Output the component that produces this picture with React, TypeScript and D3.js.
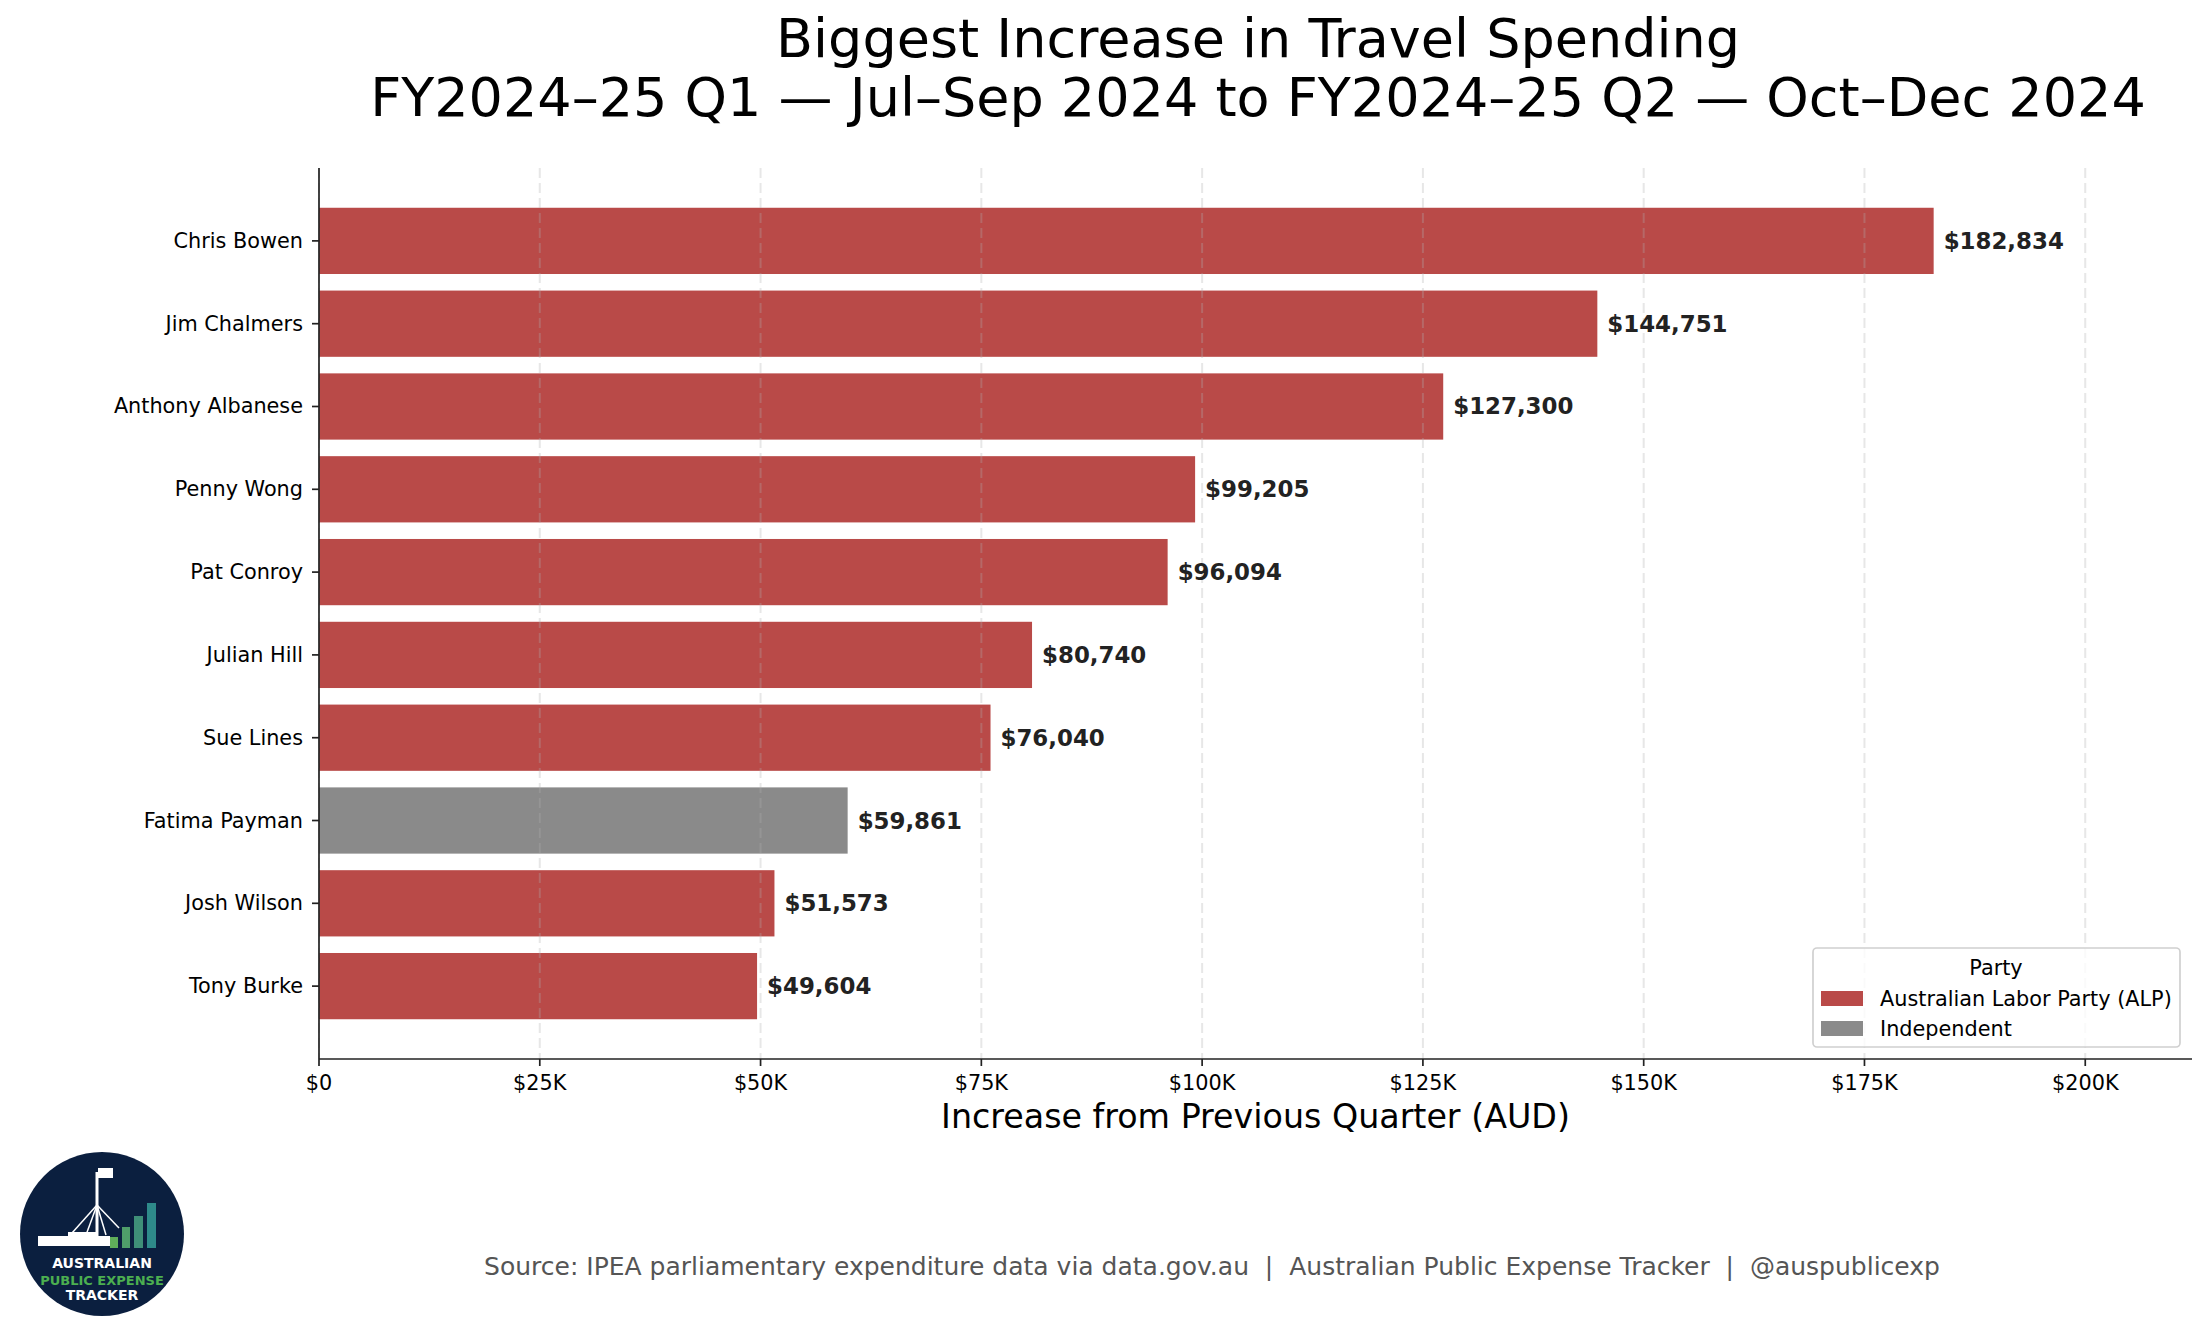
import * as d3 from "d3";

const members = [
  "Chris Bowen",
  "Jim Chalmers",
  "Anthony Albanese",
  "Penny Wong",
  "Pat Conroy",
  "Julian Hill",
  "Sue Lines",
  "Fatima Payman",
  "Josh Wilson",
  "Tony Burke",
];
const increases = [182834, 144751, 127300, 99205, 96094, 80740, 76040, 59861, 51573, 49604];
const parties = ["ALP", "ALP", "ALP", "ALP", "ALP", "ALP", "ALP", "IND", "ALP", "ALP"];
const xTicks = [0, 25000, 50000, 75000, 100000, 125000, 150000, 175000, 200000];

const partyColor: Record<string, string> = { ALP: "#b94a48", IND: "#8a8a8a" };
const legendItems = [
  { key: "ALP", label: "Australian Labor Party (ALP)" },
  { key: "IND", label: "Independent" },
];

const W = 2205;
const H = 1337;
const left = 319;
const right = 2192;
const top = 168;
const bottom = 1059;
const font = "'DejaVu Sans', sans-serif";

const fmtTick = (v: number) => (v === 0 ? "$0" : `$${v / 1000}K`);
const fmtVal = (v: number) => "$" + d3.format(",")(v);

export default function App() {
  const x = d3
    .scaleLinear()
    .domain([0, (d3.max(increases) || 0) * 1.16])
    .range([left, right]);
  // matplotlib-style categorical positions with 5% margins
  const n = members.length;
  const y = d3
    .scaleLinear()
    .domain([-0.4 - 0.049 * (n - 0.2), n - 0.6 + 0.049 * (n - 0.2)])
    .range([top, bottom]);
  const barH = y(0.8) - y(0);

  return (
    <svg
      width={W}
      height={H}
      style={{ position: "absolute", left: 0, top: 0, background: "#fff" }}
      fontFamily={font}
    >
      <rect width={W} height={H} fill="#fff" />

      {/* title */}
      <text x={1258} y={57} textAnchor="middle" fontSize={54} fill="#000">
        Biggest Increase in Travel Spending
      </text>
      <text x={1258} y={116} textAnchor="middle" fontSize={54} fill="#000">
        FY2024–25 Q1 — Jul–Sep 2024 to FY2024–25 Q2 — Oct–Dec 2024
      </text>

      {/* bars */}
      {members.map((m, i) => (
        <rect
          key={m}
          x={x(0)}
          y={y(i) - barH / 2}
          width={x(increases[i]) - x(0)}
          height={barH}
          fill={partyColor[parties[i]]}
        />
      ))}

      {/* grid */}
      {xTicks.map((t) => (
        <line
          key={"g" + t}
          x1={x(t)}
          x2={x(t)}
          y1={top}
          y2={bottom}
          stroke="#b0b0b0"
          strokeOpacity={0.3}
          strokeWidth={2}
          strokeDasharray="10,5"
        />
      ))}

      {/* value labels */}
      {members.map((m, i) => (
        <text
          key={"v" + m}
          x={x(increases[i]) + 10}
          y={y(i)}
          dominantBaseline="central"
          fontSize={22.9}
          fontWeight="bold"
          fill="#222"
        >
          {fmtVal(increases[i])}
        </text>
      ))}

      {/* y axis */}
      <line x1={left} x2={left} y1={top} y2={bottom} stroke="#222" strokeWidth={1.7} />
      {members.map((m, i) => (
        <g key={"y" + m}>
          <line x1={left - 7} x2={left} y1={y(i)} y2={y(i)} stroke="#222" strokeWidth={1.7} />
          <text
            x={left - 16}
            y={y(i)}
            textAnchor="end"
            dominantBaseline="central"
            fontSize={20.8}
            fill="#000"
          >
            {m}
          </text>
        </g>
      ))}

      {/* x axis */}
      <line x1={left} x2={right} y1={bottom} y2={bottom} stroke="#222" strokeWidth={1.7} />
      {xTicks.map((t) => (
        <g key={"x" + t}>
          <line x1={x(t)} x2={x(t)} y1={bottom} y2={bottom + 7} stroke="#222" strokeWidth={1.7} />
          <text x={x(t)} y={bottom + 31} textAnchor="middle" fontSize={20.8} fill="#000">
            {fmtTick(t)}
          </text>
        </g>
      ))}
      <text x={(left + right) / 2} y={1128} textAnchor="middle" fontSize={33.3} fill="#000">
        Increase from Previous Quarter (AUD)
      </text>

      {/* legend */}
      <rect
        x={1813}
        y={948}
        width={367}
        height={99}
        rx={4}
        fill="#fff"
        fillOpacity={0.8}
        stroke="#d0d0d0"
        strokeWidth={1.7}
      />
      <text x={1996} y={975} textAnchor="middle" fontSize={20.8} fill="#000">
        Party
      </text>
      {legendItems.map((it, i) => (
        <g key={it.key}>
          <rect x={1821} y={991 + i * 30} width={42} height={15} fill={partyColor[it.key]} />
          <text x={1880} y={1006 + i * 30} fontSize={20.8} fill="#000">
            {it.label}
          </text>
        </g>
      ))}

      {/* source */}
      <text
        x={1212}
        y={1275}
        textAnchor="middle"
        fontSize={25}
        fill="#555"
        style={{ whiteSpace: "pre" }}
      >
        {"Source: IPEA parliamentary expenditure data via data.gov.au  |  Australian Public Expense Tracker  |  @auspublicexp"}
      </text>

      {/* logo */}
      <g>
        <circle cx={102} cy={1234} r={82} fill="#0b1f3f" />
        <rect x={38} y={1236} width={72} height={10} fill="#fff" />
        <rect x={68} y={1232} width={30} height={5} fill="#fff" />
        <line x1={97} x2={97} y1={1172} y2={1237} stroke="#fff" strokeWidth={3} />
        <rect x={98} y={1168} width={15} height={10} fill="#fff" />
        <line x1={97} y1={1205} x2={72} y2={1233} stroke="#fff" strokeWidth={1.5} />
        <line x1={97} y1={1205} x2={86} y2={1235} stroke="#fff" strokeWidth={1.5} />
        <line x1={97} y1={1205} x2={106} y2={1235} stroke="#fff" strokeWidth={1.5} />
        <line x1={97} y1={1205} x2={119} y2={1228} stroke="#fff" strokeWidth={1.5} />
        <rect x={110} y={1237} width={8} height={11} fill="#5fae5a" />
        <rect x={122} y={1227} width={8} height={21} fill="#4f9e6a" />
        <rect x={134} y={1216} width={9} height={32} fill="#3f8f78" />
        <rect x={147} y={1203} width={9} height={45} fill="#2e8a8a" />
        <text x={102} y={1268} textAnchor="middle" fontSize={14} fontWeight="bold" fill="#fff">
          AUSTRALIAN
        </text>
        <text x={102} y={1285} textAnchor="middle" fontSize={13} fontWeight="bold" fill="#4caf50">
          PUBLIC EXPENSE
        </text>
        <text x={102} y={1300} textAnchor="middle" fontSize={14} fontWeight="bold" fill="#fff">
          TRACKER
        </text>
      </g>
    </svg>
  );
}
